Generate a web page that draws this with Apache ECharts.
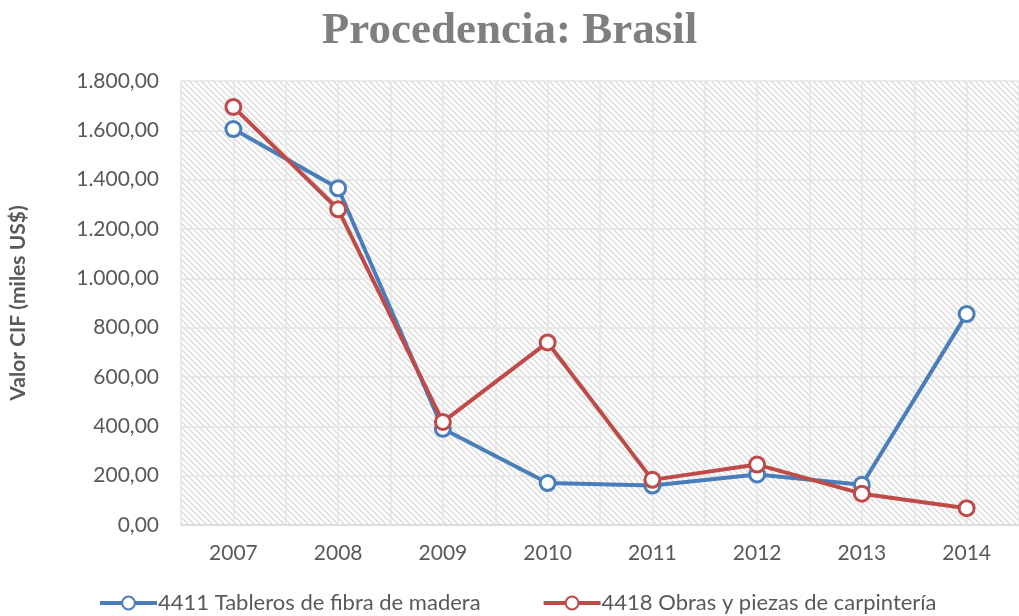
<!DOCTYPE html>
<html>
<head>
<meta charset="utf-8">
<script src="https://cdn.jsdelivr.net/npm/echarts@6/dist/echarts.min.js"></script>
<style>
  html, body { margin: 0; padding: 0; background: #fff; }
  #chart { width: 1019px; height: 616px; }
</style>
</head>
<body>
<div id="chart"></div>
<script>
// datos
var years = ['2007', '2008', '2009', '2010', '2011', '2012', '2013', '2014'];
var tableros = [1605, 1365, 390, 170, 160, 205, 163, 855];   // 4411
var obras = [1695, 1280, 418, 740, 183, 245, 127, 68];       // 4418
var seriesNames = ['4411 Tableros de fibra de madera', '4418 Obras y piezas de carpintería'];

// fondo rayado del área de trazado
function hatch() {
    var c = document.createElement('canvas');
    c.width = 6; c.height = 6;
    var ctx = c.getContext('2d');
    ctx.fillStyle = '#ffffff';
    ctx.fillRect(0, 0, 6, 6);
    ctx.strokeStyle = '#d9d9d9';
    ctx.lineWidth = 1.3;
    ctx.beginPath();
    ctx.moveTo(-1, -1); ctx.lineTo(7, 7);
    ctx.moveTo(5, -1); ctx.lineTo(7, 1);
    ctx.moveTo(-1, 5); ctx.lineTo(1, 7);
    ctx.stroke();
    return c;
}

function fmt(v) {
    var s = Math.round(v).toString().replace(/\B(?=(\d{3})+(?!\d))/g, '.');
    return s + ',00';
}

var font = 'Lato, "Open Sans", sans-serif';

var option = {
    animation: false,
    title: {
        text: 'Procedencia: Brasil',
        left: 'center',
        top: 4,
        textStyle: {
            fontFamily: '"Liberation Serif", serif',
            fontWeight: 'bold',
            fontSize: 45,
            color: '#7f7f7f'
        }
    },
    legend: {
        bottom: -3,
        left: 93,
        itemWidth: 57,
        itemHeight: 16,
        itemGap: 61,
        textStyle: { fontFamily: font, fontSize: 22, color: '#595959', padding: [0, 0, 0, -4] },
        lineStyle: { width: 4 },
        data: seriesNames
    },
    grid: {
        left: 180,
        right: -5,
        top: 81,
        bottom: 91,
        show: true,
        borderWidth: 0,
        backgroundColor: { image: hatch(), repeat: 'repeat' }
    },
    xAxis: [
        {
            type: 'category',
            data: years,
            boundaryGap: true,
            axisLine: { lineStyle: { color: '#d9d9d9', width: 1.5 } },
            axisTick: { show: false },
            axisLabel: { fontFamily: font, fontSize: 21, color: '#595959', margin: 18 },
            splitLine: { show: false }
        },
        {
            type: 'value',
            min: 0,
            max: 16,
            interval: 1,
            position: 'bottom',
            axisLine: { show: false },
            axisTick: { show: false },
            axisLabel: { show: false },
            splitLine: { show: true, lineStyle: { color: '#e4e4e4', width: 1.5 } }
        }
    ],
    yAxis: {
        type: 'value',
        min: 0,
        max: 1800,
        interval: 200,
        name: 'Valor CIF (miles US$)',
        nameLocation: 'middle',
        nameGap: 152,
        nameTextStyle: { fontFamily: font, fontSize: 21, fontWeight: 'bold', color: '#595959' },
        axisLine: { show: false },
        axisTick: { show: false },
        axisLabel: { fontFamily: font, fontSize: 21, color: '#595959', margin: 22, formatter: fmt },
        splitLine: { lineStyle: { color: '#e4e4e4', width: 1.5 } }
    },
    series: [
        {
            name: seriesNames[0],
            type: 'line',
            data: tableros,
            symbol: 'circle',
            symbolSize: 15,
            lineStyle: { color: '#4a7ebb', width: 4 },
            itemStyle: { color: '#ffffff', borderColor: '#4a7ebb', borderWidth: 3 },
            z: 3
        },
        {
            name: seriesNames[1],
            type: 'line',
            data: obras,
            symbol: 'circle',
            symbolSize: 15,
            lineStyle: { color: '#be4b48', width: 4 },
            itemStyle: { color: '#ffffff', borderColor: '#be4b48', borderWidth: 3 },
            z: 4
        }
    ]
};

echarts.init(document.getElementById('chart')).setOption(option);
</script>
</body>
</html>
